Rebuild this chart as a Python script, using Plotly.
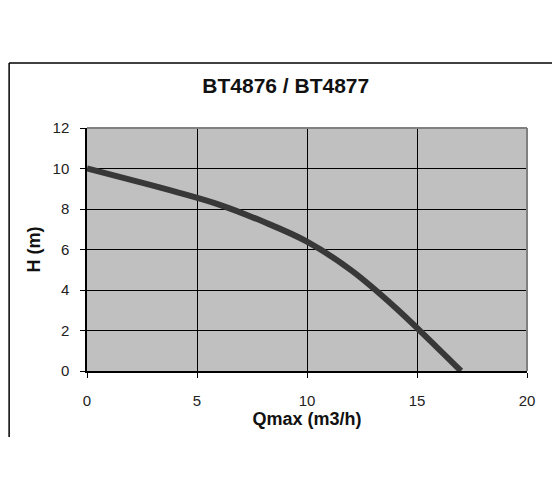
import plotly.graph_objects as go

# pump curve
flow = [0, 2, 4, 6, 8, 10, 12, 14, 16, 17]
head = [10, 9.44, 8.86, 8.22, 7.38, 6.39, 4.98, 3.15, 1.07, 0]

x_ticks = [0, 5, 10, 15, 20]
y_ticks = [0, 2, 4, 6, 8, 10, 12]

fig = go.Figure()
fig.add_trace(go.Scatter(x=flow, y=head, mode='lines',
                         line=dict(color='#383838', width=6, shape='spline', smoothing=1.0),
                         showlegend=False, hoverinfo='skip'))

font_main = 'Liberation Sans, Arial, sans-serif'

fig.update_layout(
    width=560, height=504,
    margin=dict(l=79, r=41, t=120, b=141),
    paper_bgcolor='white',
    plot_bgcolor='#c0c0c0',
    font=dict(family=font_main, color='#222222', size=14),
    title=dict(text='<b>BT4876 / BT4877</b>', x=0.496, xanchor='center',
               y=1 - 78 / 504, yanchor='middle',
               font=dict(size=21, color='#111111')),
    shapes=[
        # outer frame pieces
        dict(type='line', xref='paper', yref='paper', x0=-0.177, x1=1.057, y0=1.267, y1=1.267,
             line=dict(color='black', width=1.5)),
        dict(type='line', xref='paper', yref='paper', x0=-0.177, x1=-0.177, y0=1.267, y1=-0.272,
             line=dict(color='black', width=1.5)),
        # gray top / right border of the plot area
        dict(type='line', xref='paper', yref='paper', x0=0, x1=1, y0=1, y1=1,
             line=dict(color='#808080', width=2)),
        dict(type='line', xref='paper', yref='paper', x0=1, x1=1, y0=0, y1=1,
             line=dict(color='#808080', width=2)),
    ],
)

fig.update_xaxes(range=[0, 20], tickvals=x_ticks, showgrid=True, gridcolor='black', gridwidth=1,
                 showline=True, linecolor='black', linewidth=1.5, zeroline=False,
                 ticks='outside', ticklen=5, tickcolor='black', ticklabelstandoff=10,
                 tickfont=dict(size=15, color='#222222'),
                 title=dict(text='<b>Qmax (m3/h)</b>', font=dict(size=18, color='#111111'), standoff=0))
fig.update_yaxes(range=[0, 12], tickvals=y_ticks, showgrid=True, gridcolor='black', gridwidth=1,
                 showline=True, linecolor='black', linewidth=1.5, zeroline=False,
                 ticks='outside', ticklen=5, tickcolor='black', ticklabelstandoff=8,
                 tickfont=dict(size=15, color='#222222'),
                 title=dict(text='<b>H (m)</b>', font=dict(size=18, color='#111111'), standoff=7))

fig.write_html("out.html")
